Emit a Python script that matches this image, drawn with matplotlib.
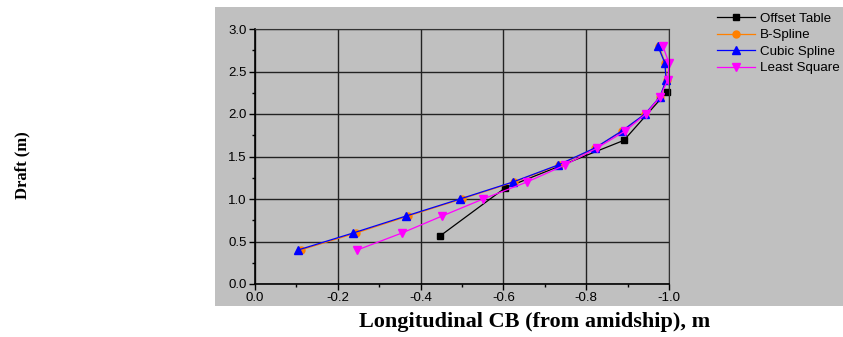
import numpy as np
import matplotlib.pyplot as plt
from matplotlib.patches import Rectangle
from matplotlib.ticker import MultipleLocator

# Draft values (m)
offset_draft = [0.565, 1.13, 1.69, 2.26]
spline_draft = [0.4, 0.6, 0.8, 1.0, 1.2, 1.4, 1.6, 1.8, 2.0, 2.2, 2.4, 2.6, 2.8]

# Longitudinal CB (from amidship), m
offset_lcb = [-0.447, -0.604, -0.891, -0.995]
bspline_lcb = [-0.110, -0.244, -0.370, -0.499, -0.626, -0.735, -0.822,
               -0.887, -0.943, -0.979, -0.994, -0.991, -0.975]
cubic_lcb = [-0.104, -0.237, -0.365, -0.495, -0.623, -0.732, -0.821,
             -0.886, -0.942, -0.978, -0.993, -0.990, -0.973]
least_lcb = [-0.247, -0.355, -0.452, -0.551, -0.657, -0.749, -0.826,
             -0.894, -0.944, -0.978, -0.997, -1.000, -0.985]

gray = "#c0c0c0"

fig = plt.figure(figsize=(8.43, 3.37), dpi=100)
fig.patches.append(Rectangle((215 / 843, 1 - 306 / 337), 628 / 843, 299 / 337,
                             transform=fig.transFigure, facecolor=gray,
                             edgecolor="none", zorder=-5))

ax = fig.add_axes([255 / 843, 1 - 284 / 337, 414 / 843, 255 / 337])
ax.set_zorder(2)
ax.set_facecolor(gray)

ax.plot(offset_lcb, offset_draft, color="black", lw=0.9, marker="s", ms=4,
        label="Offset Table", clip_on=False)
ax.plot(bspline_lcb, spline_draft, color="#ff8000", lw=0.9, marker="o", ms=5,
        label="B-Spline", clip_on=False)
ax.plot(cubic_lcb, spline_draft, color="#0000ff", lw=0.9, marker="^", ms=6,
        label="Cubic Spline", clip_on=False)
ax.plot(least_lcb, spline_draft, color="#ff00ff", lw=0.9, marker="v", ms=6,
        label="Least Square", clip_on=False)

ax.set_xlim(0, -1.0)
ax.set_ylim(0, 3.0)
ax.xaxis.set_minor_locator(MultipleLocator(0.1))
ax.yaxis.set_major_locator(MultipleLocator(0.5))
ax.yaxis.set_minor_locator(MultipleLocator(0.25))
ax.set_xticks(np.arange(0, -1.01, -0.2))
ax.set_xticklabels(["0.0", "-0.2", "-0.4", "-0.6", "-0.8", "-1.0"])
ax.grid(True, which="major", color="#222222", lw=1.0)
ax.set_axisbelow(True)
ax.tick_params(which="major", length=4, width=1, labelsize=9.5, pad=2,
               colors="black", labelfontfamily="Liberation Sans")
ax.tick_params(which="minor", length=2, width=1)
for s in ["top", "right"]:
    ax.spines[s].set_color("#333333")
for s in ["left", "bottom"]:
    ax.spines[s].set_linewidth(1.2)

leg = fig.legend(loc="upper left", bbox_to_anchor=(712 / 843, 1 - 7 / 337),
                 frameon=False, prop={"family": "Liberation Sans", "size": 9.6},
                 handlelength=2.8, handletextpad=0.4, labelspacing=0.32,
                 borderaxespad=0)

fig.text(535 / 843, 1 - 322 / 337, "Longitudinal CB (from amidship), m",
         ha="center", va="center", fontsize=16, fontweight="bold",
         family="Liberation Serif")
fig.text(22 / 843, 1 - 165 / 337, "Draft (m)", ha="center", va="center",
         rotation=90, fontsize=12, fontweight="bold", family="Liberation Serif")

fig.savefig("out.png", dpi=100)
